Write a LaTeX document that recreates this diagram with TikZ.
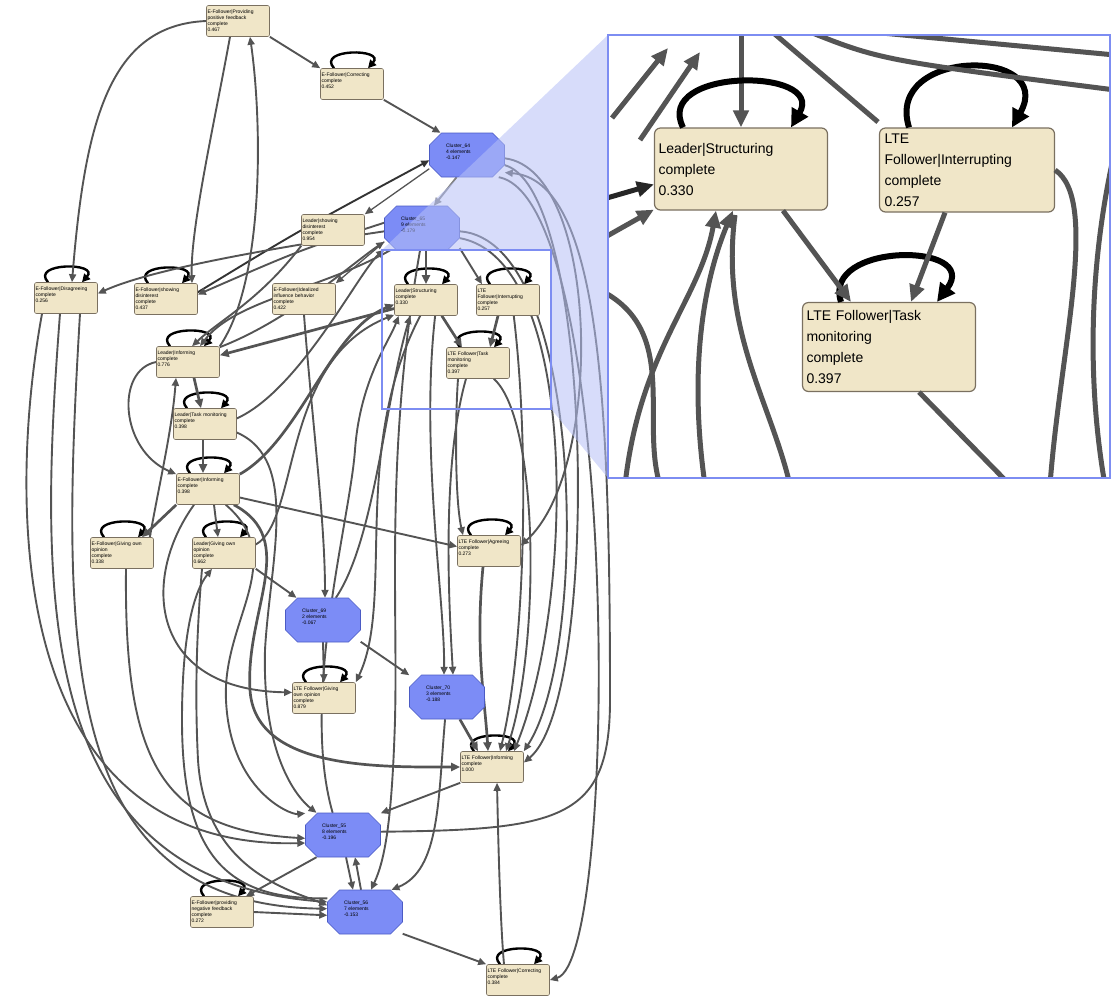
\documentclass[tikz,border=0pt]{standalone}
\usepackage{fontspec}
\setmainfont{Liberation Sans}
\usetikzlibrary{arrows.meta,backgrounds}
\hyphenpenalty=10000
\exhyphenpenalty=10000
\definecolor{actfill}{HTML}{F0E6C8}
\definecolor{actline}{HTML}{7A7060}
\definecolor{clufill}{HTML}{7C8CF6}
\definecolor{cluline}{HTML}{4B5BC4}
\definecolor{edgegray}{HTML}{545454}
\definecolor{zoomline}{HTML}{7D8DF2}
\definecolor{zoomfill}{HTML}{B6C0F6}
\tikzset{
	act/.style={rectangle, rounded corners=2pt, draw=actline, fill=actfill, line width=0.6pt, font=\fontsize{5}{6}\selectfont, align=left, text width=61pt, minimum height=31pt, inner sep=1pt},
	clu/.style={rectangle, font=\fontsize{5}{6}\selectfont, align=left, text width=42pt, minimum width=75pt, minimum height=44pt, inner sep=1pt},
	edge/.style={draw=edgegray, line width=1.9pt, -{Triangle[length=8pt,width=7pt]}},
	thinedge/.style={edge, line width=1.3pt},
	thickedge/.style={edge, line width=2.7pt, -{Triangle[length=9pt,width=8pt]}},
	loopedge/.style={draw=black, line width=2.4pt, -{Triangle[length=8pt,width=8pt]}},
	bigact/.style={act, rounded corners=6pt, line width=1.2pt, font=\fontsize{14}{21}\selectfont, text width=165pt, inner sep=4pt},
	bigedge/.style={draw=edgegray, line width=5pt, -{Triangle[length=17pt,width=15pt]}},
	bigloop/.style={draw=black, line width=6pt, -{Triangle[length=18pt,width=18pt]}}
}
\newcommand{\clusternode}[4]{%
	\filldraw[fill=clufill, draw=cluline, line width=0.6pt] (#2-37.5,#3-10) -- (#2-25.5,#3-22) -- (#2+25.5,#3-22) -- (#2+37.5,#3-10) -- (#2+37.5,#3+10) -- (#2+25.5,#3+22) -- (#2-25.5,#3+22) -- (#2-37.5,#3+10) -- cycle;
	\node[clu] (#1) at (#2,#3) {#4};}
\begin{document}
\begin{tikzpicture}[x=1pt, y=-1pt]
	\useasboundingbox (0,0) rectangle (1113,997);
	\node[act] (ppf) at (238,21) {E-Follower|Providing\\positive feedback\\complete\\0.467};
	\node[act] (cor) at (352,84) {E-Follower|Correcting\\complete\\0.452\\\mbox{}};
	\clusternode{c64}{467}{155}{Cluster\_64\\4 elements\\-0.147\\\mbox{}}
	\clusternode{c65}{422}{228}{Cluster\_65\\9 elements\\-0.179\\\mbox{}}
	\node[act] (lsd) at (333,230) {Leader|showing\\disinterest\\complete\\0.954};
	\node[act] (dis) at (66,298) {E-Follower|Disagreeing\\complete\\0.256\\\mbox{}};
	\node[act] (esd) at (166,299) {E-Follower|showing\\disinterest\\complete\\0.437};
	\node[act] (idb) at (304,299) {E-Follower|Idealized\\influence behavior\\complete\\0.422};
	\node[act] (lst) at (426,300) {Leader|Structuring\\complete\\0.330\\\mbox{}};
	\node[act] (int) at (508,300) {LTE\\Follower|Interrupting\\complete\\0.257};
	\node[act] (ltm) at (478,363) {LTE Follower|Task\\monitoring\\complete\\0.397};
	\node[act] (lin) at (188,362) {Leader|Informing\\complete\\0.776\\\mbox{}};
	\node[act] (ltk) at (205,424) {Leader|Task monitoring\\complete\\0.398\\\mbox{}};
	\node[act] (ein) at (208,489) {E-Follower|Informing\\complete\\0.398\\\mbox{}};
	\node[act] (ego) at (122,553) {E-Follower|Giving own\\opinion\\complete\\0.338};
	\node[act] (lgo) at (224,553) {Leader|Giving own\\opinion\\complete\\0.662};
	\node[act] (agr) at (489,551) {LTE Follower|Agreeing\\complete\\0.273\\\mbox{}};
	\clusternode{c69}{323}{620}{Cluster\_69\\2 elements\\-0.067\\\mbox{}}
	\node[act] (tgo) at (324,698) {LTE Follower|Giving\\own opinion\\complete\\0.879};
	\clusternode{c70}{447}{697}{Cluster\_70\\3 elements\\-0.188\\\mbox{}}
	\node[act] (tin) at (492,767) {LTE Follower|Informing\\complete\\1.000\\\mbox{}};
	\clusternode{c55}{343}{835}{Cluster\_55\\8 elements\\-0.196\\\mbox{}}
	\clusternode{c56}{365}{912}{Cluster\_56\\7 elements\\-0.153\\\mbox{}}
	\node[act] (neg) at (222,912) {E-Follower|providing\\negative feedback\\complete\\0.272};
	\node[act] (tcor) at (518,980) {LTE Follower|Correcting\\complete\\0.384\\\mbox{}};
	\begin{pgfonlayer}{background}
		\foreach \n in {cor,dis,esd,lst,int,ltm,lin,ltk,ein,ego,lgo,agr,tgo,tin,neg,tcor}{
			\draw[loopedge] ([xshift=-18pt]\n.north) .. controls +(-18,-20) and +(18,-20) .. ([xshift=16pt]\n.north);
		}
		\draw[edge] (ppf.south east) -- (cor.north west);
		\draw[edge] (cor.south east) -- (c64.140);
		\draw[edge, draw=gray] (c64.-115) -- (c65.62);
		\draw[thinedge] (c64.-160) -- (lsd.north east);
		\draw[edge, draw=black!80] (esd.12) .. controls (300,230) .. (c64.188);
		\draw[edge] (c65.172) .. controls (300,250) .. (esd.8);
		\draw[edge] (c65.185) .. controls (260,250) and (150,270) .. (dis.8);
		\draw[thinedge] (c65.200) -- (idb.north east);
		\draw[edge] (ppf.west) .. controls (110,25) and (85,120) .. ([xshift=6pt]dis.north);
		\draw[edge] ([xshift=-8pt]ppf.south) .. controls (215,120) and (190,230) .. ([xshift=26pt]esd.north);
		\draw[edge] (lin.north east) .. controls (265,280) and (262,120) .. ([xshift=12pt]ppf.south);
		\draw[edge] (c65.215) .. controls (320,290) and (235,300) .. ([xshift=12pt]lin.north);
		\draw[edge] (lsd.south west) .. controls (260,300) and (220,320) .. ([xshift=4pt]lin.north);
		\draw[thickedge] (lst.195) -- (lin.12);
		\draw[thickedge] ([xshift=6pt]lin.south) -- ([xshift=-4pt]ltk.north);
		\draw[thickedge] ([xshift=-2pt]ltk.south) -- ([xshift=-5pt]ein.north);
		\draw[edge] ([xshift=-4pt]ego.north east) .. controls (160,480) and (172,430) .. ([xshift=-12pt]lin.south);
		\draw[edge] (lin.west) .. controls (115,370) and (120,450) .. (ein.155);
		\draw[edge] (ltk.10) .. controls (300,390) and (360,270) .. (c65.-150);
		\draw[edge] (lin.25) .. controls (290,320) and (350,265) .. (c65.-160);
		\draw[edge] (ltk.-15) .. controls (300,460) and (270,560) .. (265,650) .. controls (262,760) and (300,800) .. (c55.140);
		\draw[thickedge] (ein.south west) -- ([xshift=20pt]ego.north);
		\draw[edge] ([xshift=6pt]ein.south) -- ([xshift=-6pt]lgo.north);
		\draw[edge] (ein.-15) -- (agr.172);
		\draw[thickedge] ([xshift=-6pt]ein.south east) .. controls (300,540) and (245,610) .. (250,690) .. controls (255,770) and (380,767) .. (tin.west);
		\draw[edge] ([xshift=-14pt]ein.south east) .. controls (290,560) and (222,620) .. (226,700) .. controls (230,790) and (290,815) .. (c55.150);
		\draw[edge] ([xshift=-14pt]ein.south) .. controls (140,580) and (150,690) .. (tgo.170);
		\draw[thickedge] (ein.25) .. controls (300,440) and (330,330) .. (lst.188);
		\draw[edge] (lgo.15) .. controls (300,520) and (280,360) .. (lst.205);
		\draw[edge] (c56.160) .. controls (230,900) and (182,860) .. (182,720) .. controls (182,630) and (195,590) .. ([xshift=-12pt]lgo.south);
		\draw[edge] ([xshift=-22pt]lgo.south) .. controls (196,640) and (195,700) .. (198,760) .. controls (205,870) and (290,890) .. (c56.170);
		\draw[edge] (lgo.south east) -- (c69.140);
		\draw[edge] ([xshift=4pt]ego.south) .. controls (124,760) and (160,830) .. (c55.185);
		\draw[edge] ([xshift=-24pt]dis.south) .. controls (8,500) and (5,850) .. (c55.192);
		\draw[edge] ([xshift=-6pt]dis.south) .. controls (38,600) and (35,880) .. (c56.165);
		\draw[edge] ([xshift=14pt]dis.south) .. controls (60,650) and (60,905) .. (c56.175);
		\draw[edge] (neg.east) -- (c56.185);
		\draw[edge] (c55.-140) -- ([xshift=24pt]neg.north);
		\draw[edge] ([xshift=3pt]c55.south) -- ([xshift=-12pt]c56.north);
		\draw[edge] ([xshift=-4pt]c56.north) -- ([xshift=12pt]c55.south);
		\draw[edge] (c56.-30) -- (tcor.north west);
		\draw[edge] ([xshift=-14pt]tcor.north) .. controls (500,920) and (498,830) .. ([xshift=5pt]tin.south);
		\draw[edge] (tin.south west) -- (c55.30);
		\draw[edge] (c69.south) -- (tgo.north);
		\draw[edge] (c69.-30) -- (c70.150);
		\draw[thickedge] (c70.-60) -- ([xshift=-14pt]tin.north);
		\draw[thickedge] ([xshift=-6pt]agr.south) .. controls (475,650) and (485,700) .. ([xshift=-4pt]tin.north);
		\draw[edge] (c70.-95) .. controls (438,800) and (440,870) .. (c56.40);
		\draw[edge] (idb.south) .. controls (312,420) and (325,520) .. ([xshift=2pt]c69.north);
		\draw[edge] (c69.60) .. controls (375,540) and (385,400) .. (lst.-135);
		\draw[edge] (lst.-110) .. controls (350,450) and (395,600) .. (tgo.north east);
		\draw[edge] (c55.115) .. controls (300,700) and (350,520) .. (355,450) .. controls (360,380) and (390,340) .. (lst.-150);
		\draw[edge] (c65.-95) .. controls (385,450) and (398,600) .. (395,720) .. controls (392,820) and (385,860) .. (c56.75);
		\draw[edge] (lst.-60) .. controls (420,450) and (445,600) .. ([xshift=-3pt]c70.north);
		\draw[edge] ([xshift=-12pt]ltm.south) .. controls (440,470) and (450,620) .. ([xshift=6pt]c70.north);
		\draw[edge] ([xshift=-20pt]ltm.south) .. controls (455,420) and (455,500) .. ([xshift=-26pt]agr.north);
		\draw[edge] (ltm.-45) .. controls (540,420) and (540,650) .. ([xshift=14pt]tin.north);
		\draw[edge] (int.-70) .. controls (530,450) and (525,650) .. ([xshift=8pt]tin.north);
		\draw[thickedge] ([xshift=4pt]c65.south) -- (lst.north);
		\draw[edge] (c65.-28) -- ([xshift=-26pt]int.north);
		\draw[thickedge] (lst.-45) -- ([xshift=-16pt]ltm.north);
		\draw[thickedge] ([xshift=-10pt]int.south) -- ([xshift=12pt]ltm.north);
		\draw[edge] (c64.-5) .. controls (600,170) and (605,470) .. (agr.10);
		\draw[edge] (c64.-15) .. controls (595,190) and (600,700) .. (tin.8);
		\draw[edge] (c65.-5) .. controls (585,240) and (590,650) .. (tin.north east);
		\draw[edge] (c65.-15) .. controls (580,260) and (575,600) .. ([xshift=22pt]tin.north);
		\draw[edge] (c55.5) .. controls (560,830) and (610,820) .. (610,700) .. controls (610,400) and (600,180) .. (c64.-25);
		\draw[edge] (c64.-35) .. controls (620,200) and (620,960) .. (tcor.east);
	\end{pgfonlayer}
	\fill[zoomfill, opacity=0.55] (382,250) -- (608,35) -- (608,478) -- (551,409) -- (551,250) -- cycle;
	\draw[zoomline, line width=2pt] (382,250) rectangle (551,409);
	\fill[white] (608,35) rectangle (1110,478);
	\begin{scope}
		\clip (608,35) rectangle (1110,478);
		\node[bigact, minimum width=173pt, minimum height=82pt] (Istr) at (741,169) {Leader|Structuring\\complete\\0.330};
		\node[bigact, minimum width=175pt, minimum height=84pt] (Iint) at (967,170) {LTE\\Follower|Interrupting\\complete\\0.257};
		\node[bigact, minimum width=172pt, minimum height=89pt] (Itm) at (889,347) {LTE Follower|Task\\monitoring\\complete\\0.397};
		\draw[bigedge] (741,30) -- (Istr.north);
		\draw[bigloop] ([xshift=-58pt]Istr.north) .. controls +(-30,-60) and +(35,-60) .. ([xshift=50pt]Istr.north);
		\draw[bigloop] ([xshift=-58pt]Iint.north) .. controls +(-25,-80) and +(45,-80) .. ([xshift=45pt]Iint.north);
		\draw[bigloop] ([xshift=-48pt]Itm.north) .. controls +(-20,-60) and +(45,-60) .. ([xshift=48pt]Itm.north);
		\draw[bigedge] ([xshift=42pt]Istr.south) -- ([xshift=-38pt]Itm.north);
		\draw[bigedge] ([xshift=-22pt]Iint.south) -- ([xshift=22pt]Itm.north);
		\draw[bigedge, draw=black!85] (600,200) -- (Istr.190);
		\draw[bigedge] (600,240) -- (Istr.205);
		\draw[bigedge] (625,485) .. controls (640,350) and (700,300) .. ([xshift=-25pt]Istr.south);
		\draw[bigedge] (705,485) .. controls (690,380) and (700,290) .. ([xshift=-8pt]Istr.south);
		\draw[bigedge, -] (600,290) .. controls (680,330) and (640,420) .. (660,485);
		\draw[bigedge, -] (790,485) .. controls (770,400) and (720,330) .. (735,215);
		\draw[bigedge] (612,118) -- (668,48);
		\draw[bigedge] (640,140) -- (700,52);
		\draw[bigedge, -] (770,30) -- (878,122);
		\draw[bigedge, -] (805,30) .. controls (880,60) .. (1115,90);
		\draw[bigedge, -] (850,30) -- (1115,55);
		\draw[bigedge, -] (Iint.east) .. controls (1100,200) and (1060,350) .. (1050,485);
		\draw[bigedge, -] (1115,150) .. controls (1085,280) and (1090,400) .. (1105,485);
		\draw[bigedge, -] ([xshift=30pt]Itm.south) -- (1010,485);
	\end{scope}
	\draw[zoomline, line width=2.5pt] (608,35) rectangle (1110,478);
\end{tikzpicture}
\end{document}
